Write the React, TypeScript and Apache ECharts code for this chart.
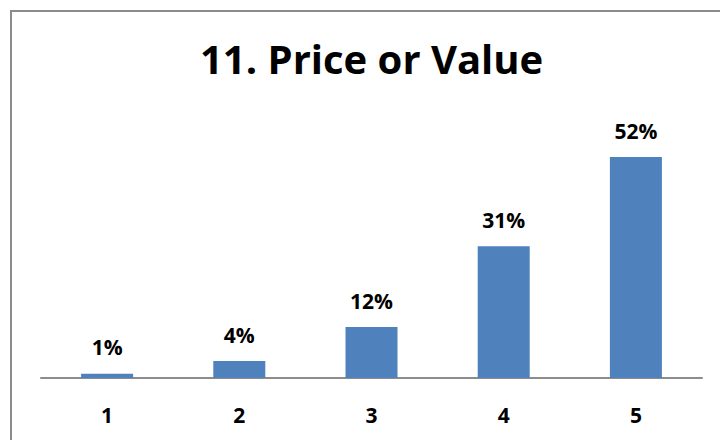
import React, { useEffect, useRef } from "react";
import * as echarts from "echarts";

const categories = ["1", "2", "3", "4", "5"];
const values = [1, 4, 12, 31, 52];
const titleText = "11. Price or Value";

const FONT = "'Open Sans', 'Noto Sans', sans-serif";

export default function App() {
  const ref = useRef<HTMLDivElement>(null);
  useEffect(() => {
    if (!ref.current) return;
    const chart = echarts.init(ref.current, null, { renderer: "svg" });
    chart.setOption({
      animation: false,
      backgroundColor: "#ffffff",
      title: {
        text: titleText,
        left: 200,
        top: 38,
        padding: 0,
        textStyle: { fontFamily: FONT, fontWeight: "bold", fontSize: 40, color: "#000" },
      },
      graphic: [
        {
          type: "rect",
          shape: { x: 11, y: 11, width: 740, height: 460 },
          style: { fill: "none", stroke: "#8c8c8c", lineWidth: 2 },
          silent: true,
        },
      ],
      grid: { left: 41, right: 18, top: 123, bottom: 62 },
      xAxis: {
        type: "category",
        data: categories,
        axisLine: { lineStyle: { color: "#8c8c8c", width: 2 } },
        axisTick: { show: false },
        axisLabel: {
          fontFamily: FONT,
          fontWeight: "bold",
          fontSize: 21,
          color: "#000",
          margin: 26,
        },
      },
      yAxis: {
        type: "value",
        min: 0,
        max: 60,
        show: false,
        splitLine: { show: false },
      },
      series: [
        {
          type: "bar",
          data: values,
          barWidth: 52,
          itemStyle: { color: "#4f81bd" },
          label: {
            show: true,
            position: "top",
            distance: 16,
            formatter: "{c}%",
            fontFamily: FONT,
            fontWeight: "bold",
            fontSize: 21,
            color: "#000",
          },
        },
      ],
    });
    return () => chart.dispose();
  }, []);
  return (
    <div
      ref={ref}
      style={{ position: "fixed", left: 0, top: 0, width: 720, height: 440 }}
    />
  );
}
